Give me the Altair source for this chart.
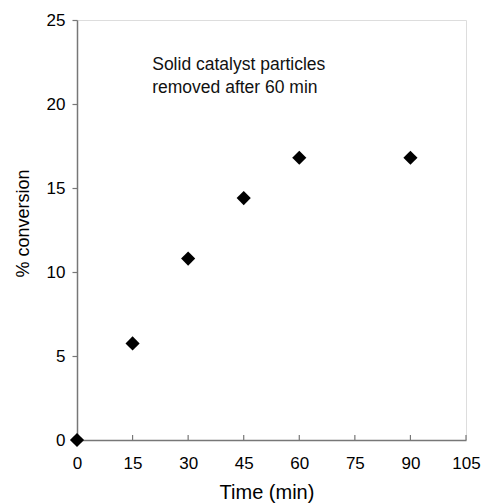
import altair as alt
import pandas as pd

time_min = [0, 15, 30, 45, 60, 90]
conversion = [0, 5.75, 10.8, 14.4, 16.8, 16.8]
x_ticks = [0, 15, 30, 45, 60, 75, 90, 105]
y_ticks = [0, 5, 10, 15, 20, 25]
note_lines = ["Solid catalyst particles", "removed after 60 min"]

df = pd.DataFrame({"t": time_min, "c": conversion})
tick_df = pd.DataFrame({"t": x_ticks})
note_df = pd.DataFrame({"t": [20.3], "c": [22.3], "label": [note_lines]})

FONT = "Liberation Sans"
AX = "#777777"

xscale = alt.Scale(domain=[0, 105], nice=False, zero=False)
yscale = alt.Scale(domain=[0, 25], nice=False)

x_axis = alt.Axis(values=x_ticks, title="Time (min)", grid=False, ticks=False,
                  labelPadding=15, labelFontSize=17, labelFont=FONT, labelColor="#000",
                  titleFont=FONT, titleFontSize=20, titleFontWeight="normal", titlePadding=11,
                  titleX=189.5, titleColor="#000",
                  domainColor=AX, domainWidth=1.5, labelFlush=False)
y_axis = alt.Axis(values=y_ticks, title="% conversion", grid=False, tickSize=5, tickColor=AX,
                  tickWidth=1.2, labelPadding=7, labelFontSize=17, labelFont=FONT, labelColor="#000",
                  titleFont=FONT, titleFontSize=18, titleFontWeight="normal", titlePadding=14,
                  titleY=203, titleColor="#000",
                  domainColor=AX, domainWidth=1.5)

points = alt.Chart(df).mark_point(shape="diamond", filled=True, color="black", opacity=1,
                                  size=200, clip=False).encode(
    x=alt.X("t:Q", scale=xscale, axis=x_axis),
    y=alt.Y("c:Q", scale=yscale, axis=y_axis),
)

ticks = alt.Chart(tick_df).mark_rule(color=AX, strokeWidth=1.2).encode(
    x=alt.X("t:Q", scale=xscale),
    y=alt.value(420), y2=alt.value(415),
)

note = alt.Chart(note_df).mark_text(align="left", baseline="middle", font=FONT, fontSize=17.5,
                                     lineHeight=23, color="#111").encode(
    x=alt.X("t:Q", scale=xscale),
    y=alt.Y("c:Q", scale=yscale),
    text="label",
)

chart = alt.layer(ticks, points, note).properties(
    width=389, height=420,
    autosize=alt.AutoSizeParams(type="none"),
    padding={"left": 77, "top": 20, "right": 18, "bottom": 64},
).configure_view(stroke=AX, strokeWidth=1.5).configure(background="white")

chart.save("out.html", embed_options={"renderer": "svg", "actions": False})
